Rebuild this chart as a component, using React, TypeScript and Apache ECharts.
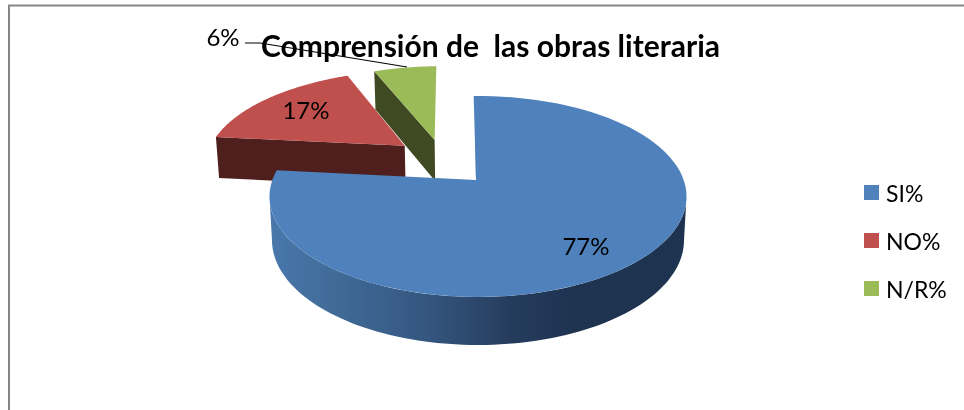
import React, { useEffect, useRef } from "react";
import * as echarts from "echarts";

const TITLE = "Comprensión de  las obras literaria";
const NAMES = ["SI%", "NO%", "N/R%"];
const VALUES = [77, 17, 6];
const TOP_COLORS = ["#4f81bd", "#c0504d", "#9bbb59"];
const WALL_COLORS = ["#1e3350", "#4f1f1e", "#3f4a22"];
const EXPLODE = [[0, 0], [-0.378, 0.372], [-0.226, 0.438]];
const LABEL_POS = [[586, 245], [306, 109], [223, 36]];
const LEADER = [[245, 43], [260, 43], [407, 67]];
const START = (-1.4 * Math.PI) / 180;

const CX = 478, CY = 180, RX = 205.7, RY = 97.8, K = 0.164;

function project(x: number, y: number, lower: boolean): number[] {
  const d = 1 + K * y;
  const px = CX + (RX * x) / d;
  const py = CY - (RY * y) / d;
  if (!lower) return [px, py];
  return [CX + (px - CX) * 0.988, py + 38 + ((py - 70) * 10) / 227];
}

function pt(theta: number, r: number, e: number[], lower = false) {
  return project(r * Math.sin(theta) + e[0], r * Math.cos(theta) + e[1], lower);
}

function arc(a: number, b: number, e: number[], lower = false) {
  const n = 90;
  const out: number[][] = [];
  for (let i = 0; i <= n; i++) out.push(pt(a + ((b - a) * i) / n, 1, e, lower));
  return out;
}

const total = VALUES.reduce((s, v) => s + v, 0);
function sliceAngles(i: number) {
  let before = 0;
  for (let j = 0; j < i; j++) before += VALUES[j];
  return [START + (before / total) * 2 * Math.PI, START + ((before + VALUES[i]) / total) * 2 * Math.PI];
}

function renderSlice(i: number) {
  return (_params: any, api: any) => {
    const [a, b] = sliceAngles(i);
    const e = EXPLODE[i];
    const children: any[] = [];
    const apex = i === 0 ? [CX - 2, CY] : pt(a, 0, e);
    if (i === 0) {
      const s = Math.acos(-K);
      const front = arc(s, 2 * Math.PI - s, e);
      const frontLow = arc(s, 2 * Math.PI - s, e, true).reverse();
      children.push({
        type: "polygon",
        shape: { points: front.concat(frontLow) },
        style: {
          fill: new echarts.graphic.LinearGradient(0, 0, 1, 0, [
            { offset: 0, color: "#4a78ac" },
            { offset: 0.1, color: "#44709f" },
            { offset: 0.38, color: "#34567f" },
            { offset: 0.58, color: "#263c5d" },
            { offset: 0.73, color: "#1e3350" },
            { offset: 1, color: "#1e3350" },
          ]),
        },
      });
      children.push({
        type: "polygon",
        shape: { points: [pt(a, 0.55, [0, 0]), apex, [apex[0] + 1.6, CY]] },
        style: { fill: WALL_COLORS[0] },
      });
    } else {
      children.push({
        type: "polygon",
        shape: { points: [pt(a, 1, e), apex, pt(a, 0, e, true), pt(a, 1, e, true)] },
        style: { fill: WALL_COLORS[i] },
      });
    }
    children.push({
      type: "polygon",
      shape: { points: [apex].concat(arc(a, b, e)) },
      style: { fill: TOP_COLORS[i] },
    });
    children.push({
      type: "text",
      style: {
        x: LABEL_POS[i][0],
        y: LABEL_POS[i][1],
        text: `${api.value(0)}%`,
        fill: "#000",
        font: "24px Lato",
        align: "center",
        verticalAlign: "middle",
      },
    });
    return { type: "group", children };
  };
}

export default function App() {
  const ref = useRef<HTMLDivElement>(null);
  useEffect(() => {
    const chart = echarts.init(ref.current!, null, { renderer: "svg" });
    chart.setOption({
      animation: false,
      title: {
        text: TITLE,
        left: 261,
        top: 30,
        padding: 0,
        textStyle: { fontFamily: "Lato", fontWeight: "bold", fontSize: 30, color: "#000" },
      },
      legend: {
        orient: "vertical",
        left: 864,
        top: 181,
        padding: 0,
        data: NAMES,
        icon: "rect",
        itemWidth: 15,
        itemHeight: 15,
        itemGap: 25,
        selectedMode: false,
        textStyle: { fontFamily: "Lato", fontSize: 23, color: "#000", padding: [0, 0, 0, 2], lineHeight: 23 },
      },
      series: [
        ...NAMES.map((name, i) => ({
          type: "custom",
          name,
          coordinateSystem: "none",
          z: i === 0 ? 3 : 2,
          itemStyle: { color: TOP_COLORS[i] },
          data: [[VALUES[i]]],
          renderItem: renderSlice(i),
        })),
      ],
      graphic: [
        {
          type: "rect",
          silent: true,
          shape: { x: 9, y: 5.5, width: 1000, height: 420 },
          style: { fill: "none", stroke: "#868686", lineWidth: 2 },
          z: 0,
        },
        {
          type: "polyline",
          silent: true,
          shape: { points: LEADER },
          style: { fill: "none", stroke: "#000", lineWidth: 1.2 },
          z: 5,
        },
      ],
    });
    return () => chart.dispose();
  }, []);
  return <div ref={ref} style={{ position: "fixed", left: 0, top: 0, width: 964, height: 410 }} />;
}
